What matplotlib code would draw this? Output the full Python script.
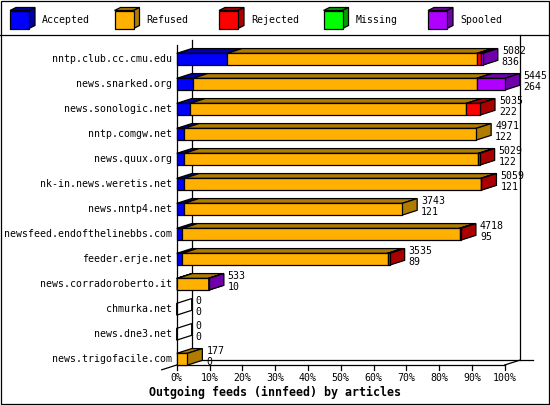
import matplotlib
matplotlib.use("Agg")
import matplotlib.pyplot as plt
from matplotlib.patches import Polygon, Rectangle
from matplotlib.lines import Line2D

# ---------------- data ----------------
categories = ["nntp.club.cc.cmu.edu", "news.snarked.org", "news.sonologic.net",
              "nntp.comgw.net", "news.quux.org", "nk-in.news.weretis.net",
              "news.nntp4.net", "newsfeed.endofthelinebbs.com", "feeder.erje.net",
              "news.corradoroberto.it", "chmurka.net", "news.dne3.net",
              "news.trigofacile.com"]
totals   = [5082, 5445, 5035, 4971, 5029, 5059, 3743, 4718, 3535, 533, 0, 0, 177]
accepted = [836, 264, 222, 122, 122, 121, 121, 95, 89, 10, 0, 0, 0]
refused  = [4150, 4716, 4588, 4849, 4887, 4928, 3622, 4601, 3411, 518, 0, 0, 177]
rejected = [70, 0, 225, 0, 20, 10, 0, 22, 35, 0, 0, 0, 0]
missing  = [0, 0, 0, 0, 0, 0, 0, 0, 0, 0, 0, 0, 0]
spooled  = [26, 465, 0, 0, 0, 0, 0, 0, 0, 5, 0, 0, 0]
series_names = ["Accepted", "Refused", "Rejected", "Missing", "Spooled"]
series_vals = [accepted, refused, rejected, missing, spooled]
tick_labels = ["0%", "10%", "20%", "30%", "40%", "50%", "60%", "70%", "80%", "90%", "100%"]
xlabel = "Outgoing feeds (innfeed) by articles"

# ---------------- style ----------------
front_cols = ["#0000FF", "#FFB000", "#FF0000", "#00FF00", "#B000FF"]
dark_cols  = ["#0000AA", "#B07C00", "#AA0000", "#00A000", "#7000AA"]
FONT = "DejaVu Sans Mono"
FS = 7.1
LW = 0.9

W, H = 550, 405
fig = plt.figure(figsize=(W / 100, H / 100), dpi=100)

# background/decoration axes in pixel coords
bg = fig.add_axes([0, 0, 1, 1])
bg.set_xlim(0, W)
bg.set_ylim(H, 0)
bg.axis("off")
bg.add_patch(Rectangle((0.5, 0.5), 548, 403, fill=False, ec="black", lw=LW))
bg.add_line(Line2D([0, W], [35, 35], color="black", lw=LW))

# legend
leg_x = [10, 114.5, 219, 323.5, 428]
for i, name in enumerate(series_names):
    x0 = leg_x[i]
    y0, y1 = 10.5, 28.5
    x1 = x0 + 19
    ddx, ddy = 6, 3
    bg.add_patch(Polygon([(x0, y0), (x0 + ddx, y0 - ddy), (x1 + ddx, y0 - ddy), (x1, y0)],
                         closed=True, fc=dark_cols[i], ec="black", lw=LW))
    bg.add_patch(Polygon([(x1, y0), (x1 + ddx, y0 - ddy), (x1 + ddx, y1 - ddy), (x1, y1)],
                         closed=True, fc=dark_cols[i], ec="black", lw=LW))
    bg.add_patch(Rectangle((x0, y0), 19, 18, fc=front_cols[i], ec="black", lw=LW))
    bg.text(x0 + 32, 20, name, fontsize=FS, family=FONT, va="center", ha="left")

# main axes: front plane, x in percent, y in row units (1 unit = 25px)
x_left_px, x_right_px = 176.7, 504.7
y_bot_px, y_top_px = 365, 40
ax = fig.add_axes([x_left_px / W, (H - y_bot_px) / H,
                   (x_right_px - x_left_px) / W, (y_bot_px - y_top_px) / H])
ax.set_xlim(0, 100)
ax.set_ylim(0, 13)
ax.axis("off")

px_x = 100 / (x_right_px - x_left_px)   # percent per px
px_y = 13 / (y_bot_px - y_top_px)       # units per px
dx = 15 * px_x
dy = 4.8 * px_y
hh = 0.235

def L(xs, ys, **kw):
    ax.add_line(Line2D(xs, ys, color="black", lw=LW, clip_on=False, **kw))

# axis frame
L([0, 0], [0, 12.8])
L([dx, dx], [dy, 13])
L([dx, 108.6], [dy, dy])
L([100 + dx, 100 + dx], [dy, 13.2])
L([0, 100], [0, 0])
L([100, 100 + dx], [0, dy])
L([-dx, dx], [-dy, dy])
for k, lab in enumerate(tick_labels):
    xt = k * 10
    L([xt, xt], [0, -4.5 * px_y])
    ax.text(xt, -13 * px_y, lab, fontsize=FS, family=FONT, ha="center", va="center")

fig.text(275 / W, 1 - 392 / H, xlabel, fontsize=8.4, family=FONT, weight="bold",
         ha="center", va="center")

vmax = max(totals)
n = len(categories)
for i, cat in enumerate(categories):
    yc = (n - 1 - i) + 0.23
    z = 10 + i
    ax.text(-4.4 * px_x, yc, cat, fontsize=FS, family=FONT, ha="right", va="center")
    x0 = 0.0
    if totals[i] == 0:
        ax.add_patch(Polygon([(0, yc - hh), (dx, yc - hh + dy), (dx, yc + hh + dy), (0, yc + hh)],
                             closed=True, fc="none", ec="black", lw=LW, clip_on=False, zorder=z))
    for s, vals in enumerate(series_vals):
        v = vals[i]
        if v <= 0:
            continue
        x1 = x0 + v / vmax * 100
        fc, dc = front_cols[s], dark_cols[s]
        ax.add_patch(Polygon([(x0, yc + hh), (x1, yc + hh), (x1 + dx, yc + hh + dy), (x0 + dx, yc + hh + dy)],
                             closed=True, fc=dc, ec="black", lw=LW, clip_on=False, zorder=z))
        ax.add_patch(Polygon([(x1, yc - hh), (x1 + dx, yc - hh + dy), (x1 + dx, yc + hh + dy), (x1, yc + hh)],
                             closed=True, fc=dc, ec="black", lw=LW, clip_on=False, zorder=z))
        ax.add_patch(Rectangle((x0, yc - hh), x1 - x0, 2 * hh, fc=fc, ec="black", lw=LW,
                               clip_on=False, zorder=z))
        x0 = x1
    xend = totals[i] / vmax * 100 + dx + 4 * px_x
    ax.text(xend, yc + 5.2 * px_y, str(totals[i]), fontsize=FS, family=FONT,
            ha="left", va="baseline", zorder=30)
    ax.text(xend, yc - 5.8 * px_y, str(accepted[i]), fontsize=FS, family=FONT,
            ha="left", va="baseline", zorder=30)

fig.savefig("out.png", dpi=100)
